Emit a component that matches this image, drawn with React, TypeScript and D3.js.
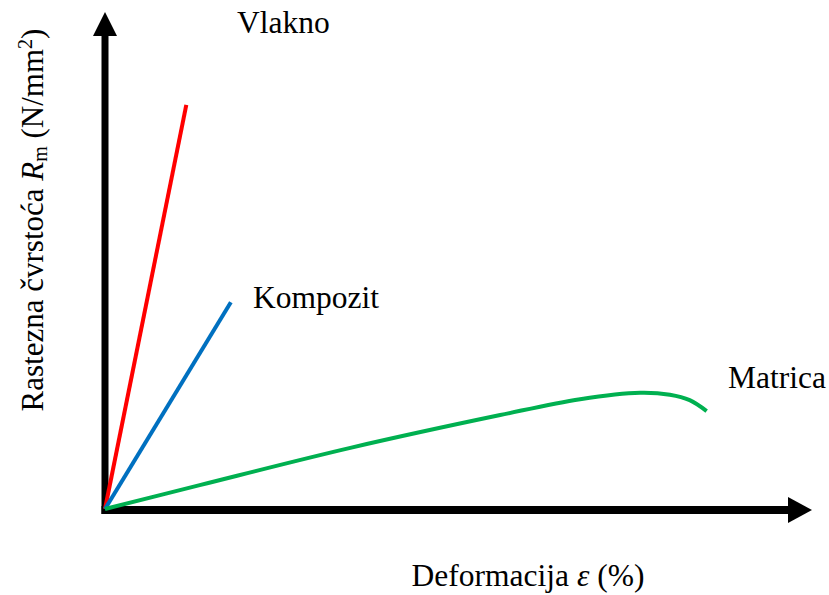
import * as d3 from "d3";
import { useEffect, useRef } from "react";

// strain (%) / stress (relative units, axes have no ticks)
const vlaknoX = [0, 11.5];
const vlaknoY = [0, 81.3];
const kompozitX = [0, 17.8];
const kompozitY = [0, 41.6];
const matricaX = [0, 13.4, 34.7, 55.9, 67.2, 75.7, 79.9, 82.7, 85.1];
const matricaY = [0, 4.8, 12.3, 18.9, 22.1, 23.4, 23.0, 21.9, 19.7];

const labels = ["Vlakno", "Kompozit", "Matrica"];
const colors = ["#ff0000", "#0070c0", "#00b050"];

const svgWidth = 829;
const svgHeight = 595;
const font = "'Liberation Serif', 'Times New Roman', serif";

export default function App() {
    const svgRef = useRef<SVGSVGElement>(null);

    useEffect(() => {
        if (svgRef.current) {
            drawChart();
        }
    }, [svgRef]);

    const drawChart = () => {
        const svg = d3.select(svgRef.current);
        svg.selectAll("*").remove();

        var scaleX = d3.scaleLinear().domain([0, 100]).range([105, 812]);
        var scaleY = d3.scaleLinear().domain([0, 100]).range([509, 12]);

        drawAxis(svg, scaleX, scaleY);
        drawLines(svg, scaleX, scaleY);
        drawLabels(svg);
    };

    const drawAxis = (svg: any, scaleX: any, scaleY: any) => {
        const x0 = scaleX(0);
        const y0 = scaleY(0);
        const xEnd = scaleX(100);
        const yEnd = scaleY(100);
        const head = 24;
        const half = 12;

        // y axis + arrow
        svg.append("line")
            .attr("x1", x0).attr("x2", x0)
            .attr("y1", y0 + 5).attr("y2", yEnd + head - 1)
            .attr("stroke", "#000").attr("stroke-width", 7);
        svg.append("path")
            .attr("d", `M${x0},${yEnd} L${x0 + half},${yEnd + head} L${x0 - half},${yEnd + head} Z`)
            .attr("fill", "#000");

        // x axis + arrow
        svg.append("line")
            .attr("x1", x0 - 3.5).attr("x2", xEnd - head + 1)
            .attr("y1", y0 + 1).attr("y2", y0 + 1)
            .attr("stroke", "#000").attr("stroke-width", 8);
        svg.append("path")
            .attr("d", `M${xEnd},${y0 + 1} L${xEnd - head},${y0 + 1 - half - 1} L${xEnd - head},${y0 + 1 + half + 1} Z`)
            .attr("fill", "#000");
    };

    const drawLines = (svg: any, scaleX: any, scaleY: any) => {
        const series = [
            { xs: vlaknoX, ys: vlaknoY, curve: d3.curveLinear },
            { xs: kompozitX, ys: kompozitY, curve: d3.curveLinear },
            { xs: matricaX, ys: matricaY, curve: d3.curveCatmullRom },
        ];
        series.forEach((s, k) => {
            const pts = s.xs.map((x, i) => [x, s.ys[i]] as [number, number]);
            svg.append("path")
                .datum(pts)
                .attr("fill", "none")
                .attr("stroke", colors[k])
                .attr("stroke-width", 4)
                .attr(
                    "d",
                    d3.line<[number, number]>()
                        .x((d) => scaleX(d[0]))
                        .y((d) => scaleY(d[1]))
                        .curve(s.curve)
                );
        });
    };

    const drawLabels = (svg: any) => {
        const pos = [
            [237, 33],
            [253, 308],
            [728, 388],
        ];
        labels.forEach((t, i) => {
            svg.append("text")
                .attr("x", pos[i][0])
                .attr("y", pos[i][1])
                .attr("font-family", font)
                .attr("font-size", 31.5)
                .attr("fill", "#000")
                .text(t);
        });

        // x title
        const xt = svg.append("text")
            .attr("x", 528)
            .attr("y", 586)
            .attr("text-anchor", "middle")
            .attr("font-family", font)
            .attr("font-size", 31.5);
        xt.append("tspan").text("Deformacija ");
        xt.append("tspan").attr("font-style", "italic").text("ε");
        xt.append("tspan").text(" (%)");

        // y title
        const yt = svg.append("text")
            .attr("transform", "translate(43,220) rotate(-90)")
            .attr("text-anchor", "middle")
            .attr("font-family", font)
            .attr("font-size", 31);
        yt.append("tspan").text("Rastezna čvrstoća ");
        yt.append("tspan").attr("font-style", "italic").text("R");
        yt.append("tspan").attr("font-size", 20).attr("dy", 4).text("m");
        yt.append("tspan").attr("dy", -4).text(" (N/mm");
        yt.append("tspan").attr("font-size", 20).attr("dy", -11).text("2");
        yt.append("tspan").attr("dy", 11).text(")");
    };

    return (
        <svg
            ref={svgRef}
            width={svgWidth}
            height={svgHeight}
            style={{ position: "absolute", left: 0, top: 0, background: "#fff" }}
        />
    );
}
